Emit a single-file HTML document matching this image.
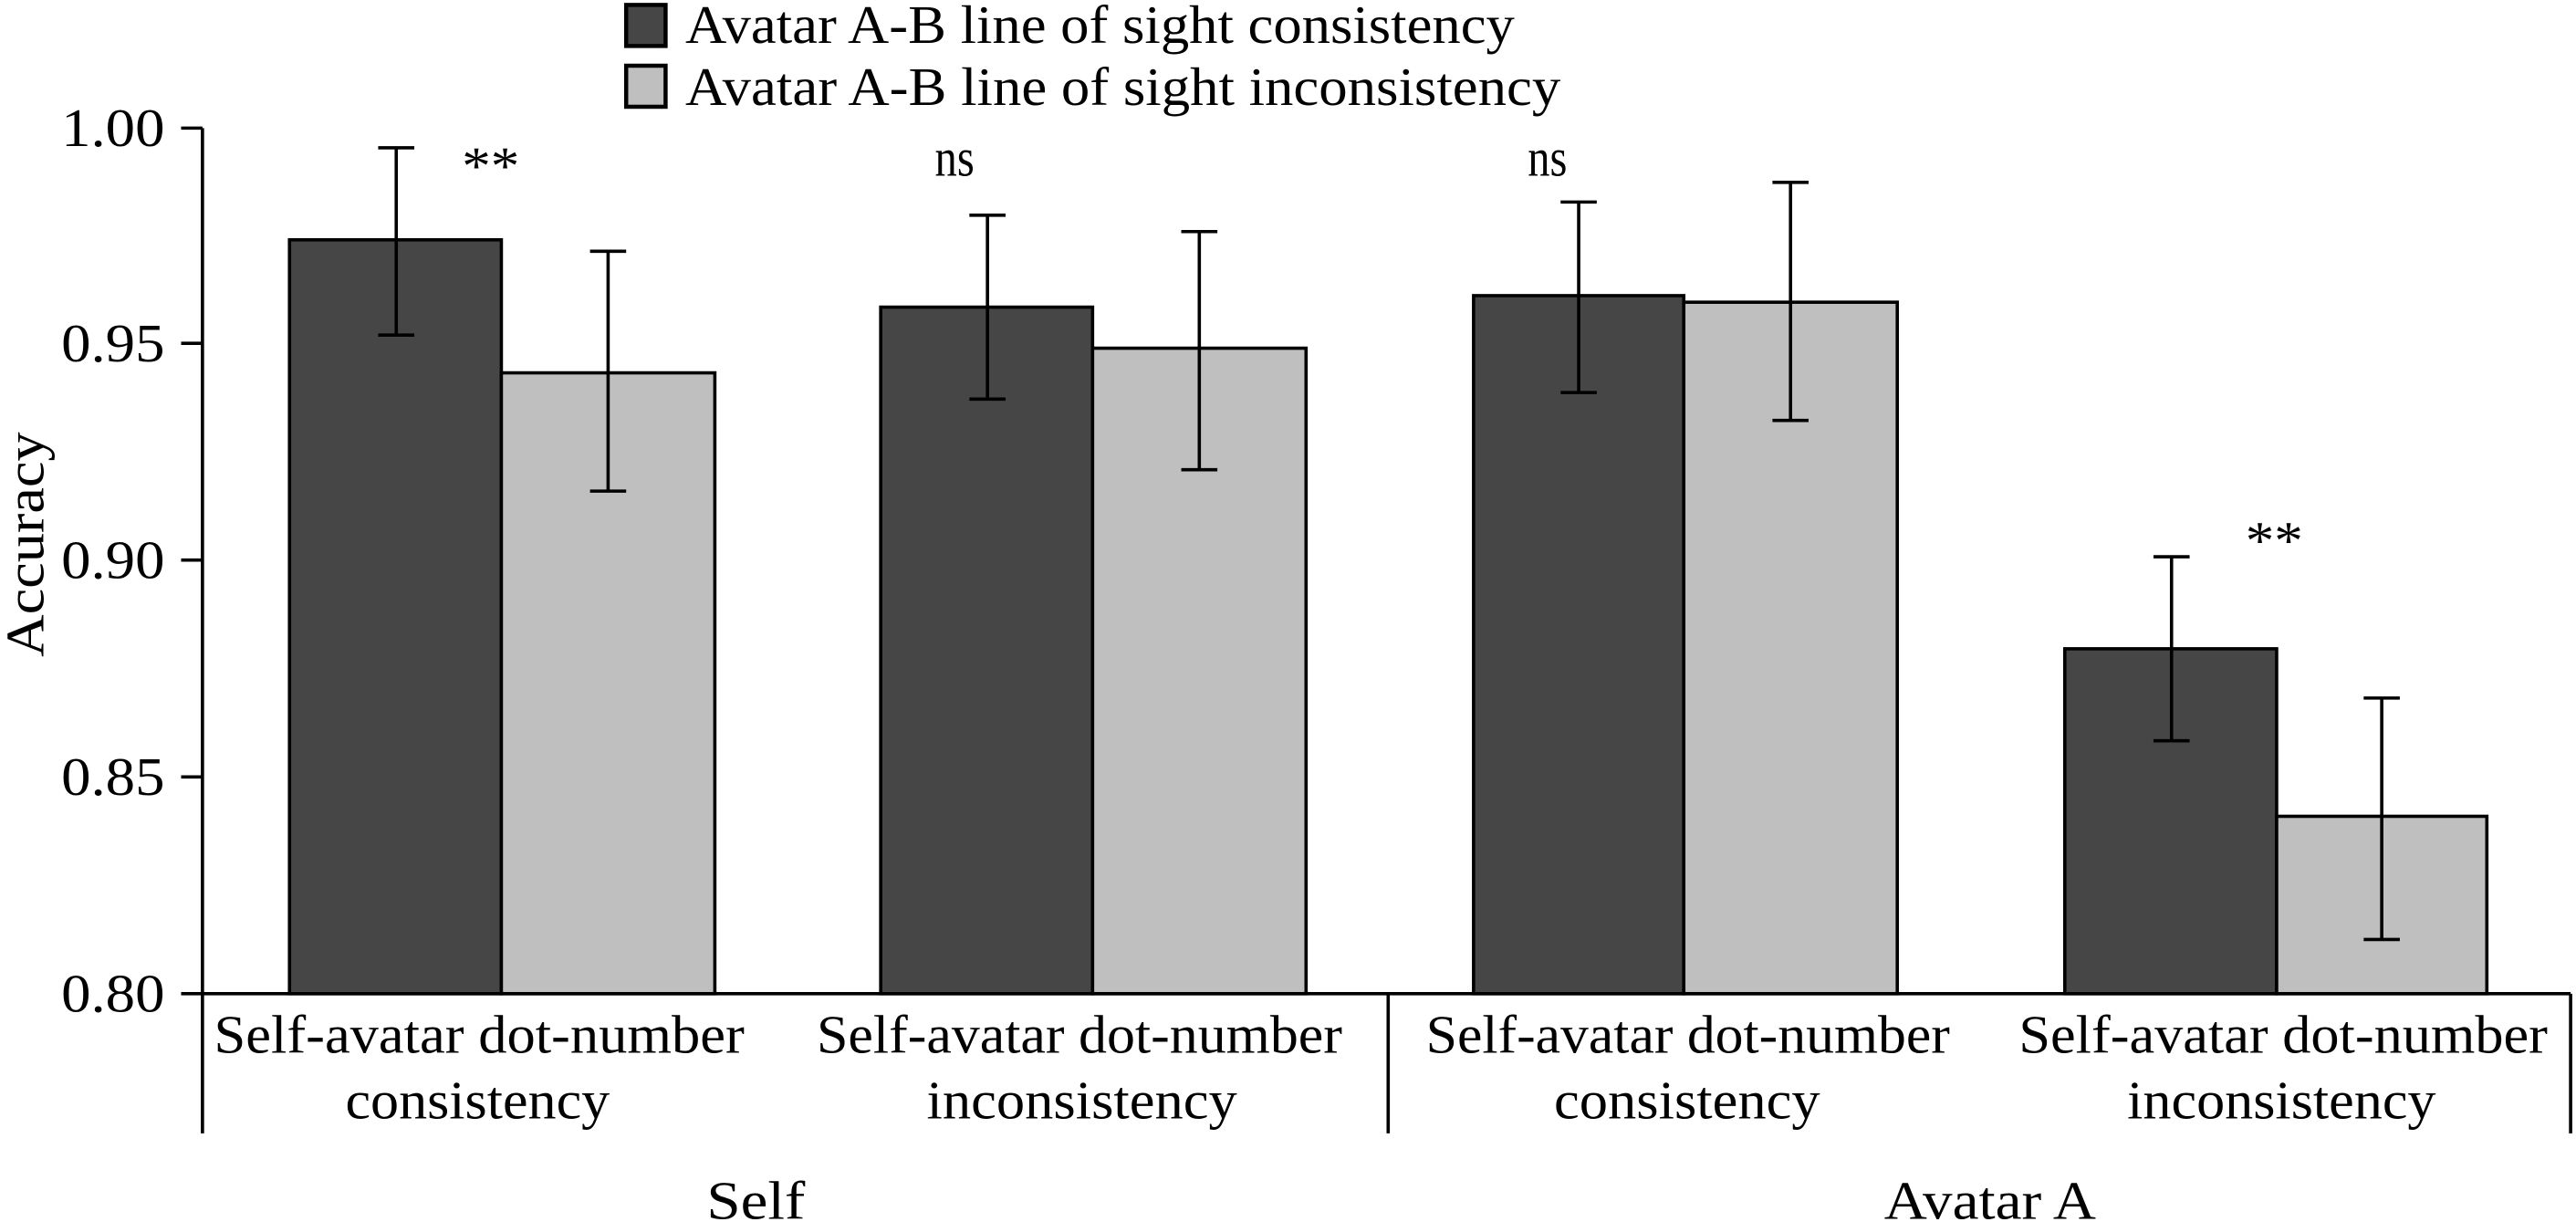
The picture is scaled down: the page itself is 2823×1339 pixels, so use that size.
<!DOCTYPE html>
<html><head><meta charset="utf-8"><style>html,body{margin:0;padding:0;background:#fff}svg{display:block}</style></head>
<body>
<svg width="2823" height="1339" viewBox="0 0 1568 744" xmlns="http://www.w3.org/2000/svg" font-family="'Liberation Serif', serif" fill="#000">
<rect width="1568" height="744" fill="#fff"/>
<!-- legend -->
<rect x="381" y="3" width="24" height="25" fill="#464646" stroke="#000" stroke-width="2.5"/>
<rect x="381" y="40" width="24" height="25" fill="#bfbfbf" stroke="#000" stroke-width="2.5"/>
<g font-size="33">
<text x="417" y="26" textLength="505" lengthAdjust="spacingAndGlyphs">Avatar A-B line of sight consistency</text>
<text x="417" y="64" textLength="533" lengthAdjust="spacingAndGlyphs">Avatar A-B line of sight inconsistency</text>
</g>
<!-- bars -->
<g stroke="#000" stroke-width="2">
<rect x="176" y="146" width="129" height="459" fill="#464646"/>
<rect x="305" y="227" width="130" height="378" fill="#bfbfbf"/>
<rect x="536" y="187" width="129" height="418" fill="#464646"/>
<rect x="665" y="212" width="130" height="393" fill="#bfbfbf"/>
<rect x="897" y="180" width="128" height="425" fill="#464646"/>
<rect x="1025" y="184" width="130" height="421" fill="#bfbfbf"/>
<rect x="1257" y="395" width="129" height="210" fill="#464646"/>
<rect x="1386" y="497" width="128" height="108" fill="#bfbfbf"/>
</g>
<!-- error bars -->
<g stroke="#000" stroke-width="2" fill="none">
<path d="M241 90V204M230 90H252M230 204H252"/>
<path d="M370 153V299M359 153H381M359 299H381"/>
<path d="M601 131V243M590 131H612M590 243H612"/>
<path d="M730 141V286M719 141H741M719 286H741"/>
<path d="M961 123V239M950 123H972M950 239H972"/>
<path d="M1090 111V256M1079 111H1101M1079 256H1101"/>
<path d="M1322 339V451M1311 339H1333M1311 451H1333"/>
<path d="M1450 425V572M1439 425H1461M1439 572H1461"/>
</g>
<!-- axes -->
<g stroke="#000" stroke-width="2" fill="none">
<path d="M123 78V690M123 605H1565M845 605V690M1565 605V690"/>
<path d="M110 78H123M110 209H123M110 341H123M110 473H123M110 605H123"/>
</g>
<g font-size="33">
<text x="37" y="89" textLength="63" lengthAdjust="spacingAndGlyphs">1.00</text>
<text x="37" y="220" textLength="63" lengthAdjust="spacingAndGlyphs">0.95</text>
<text x="37" y="352" textLength="63" lengthAdjust="spacingAndGlyphs">0.90</text>
<text x="37" y="484" textLength="63" lengthAdjust="spacingAndGlyphs">0.85</text>
<text x="37" y="616" textLength="63" lengthAdjust="spacingAndGlyphs">0.80</text>
<text transform="translate(26,400) rotate(-90)" textLength="137" lengthAdjust="spacingAndGlyphs">Accuracy</text>
<text x="281" y="112" textLength="35" lengthAdjust="spacingAndGlyphs">**</text>
<text x="569" y="107" textLength="24" lengthAdjust="spacingAndGlyphs">ns</text>
<text x="930" y="107" textLength="24" lengthAdjust="spacingAndGlyphs">ns</text>
<text x="1367" y="340" textLength="35" lengthAdjust="spacingAndGlyphs">**</text>
<text x="130" y="641" textLength="323" lengthAdjust="spacingAndGlyphs">Self-avatar dot-number</text>
<text x="210" y="681" textLength="161" lengthAdjust="spacingAndGlyphs">consistency</text>
<text x="497" y="641" textLength="320" lengthAdjust="spacingAndGlyphs">Self-avatar dot-number</text>
<text x="564" y="681" textLength="189" lengthAdjust="spacingAndGlyphs">inconsistency</text>
<text x="868" y="641" textLength="319" lengthAdjust="spacingAndGlyphs">Self-avatar dot-number</text>
<text x="946" y="681" textLength="162" lengthAdjust="spacingAndGlyphs">consistency</text>
<text x="1229" y="641" textLength="322" lengthAdjust="spacingAndGlyphs">Self-avatar dot-number</text>
<text x="1295" y="681" textLength="188" lengthAdjust="spacingAndGlyphs">inconsistency</text>
<text x="430" y="742" textLength="60" lengthAdjust="spacingAndGlyphs">Self</text>
<text x="1147" y="742" textLength="129" lengthAdjust="spacingAndGlyphs">Avatar A</text>
</g>
</svg>
</body></html>
